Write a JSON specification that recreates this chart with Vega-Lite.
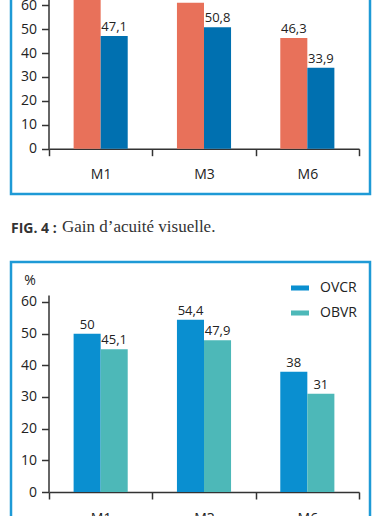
{
  "$schema": "https://vega.github.io/schema/vega-lite/v6.json",
  "padding": {"left": 9, "top": -8, "right": 0, "bottom": -17},
  "background": "white",
  "datasets": {
    "gain": [
      {"month": "M1", "group": "OVCR", "value": 64},
      {"month": "M1", "group": "OBVR", "value": 47.1},
      {"month": "M3", "group": "OVCR", "value": 61},
      {"month": "M3", "group": "OBVR", "value": 50.8},
      {"month": "M6", "group": "OVCR", "value": 46.3},
      {"month": "M6", "group": "OBVR", "value": 33.9}
    ],
    "pct": [
      {"month": "M1", "group": "OVCR", "value": 50},
      {"month": "M1", "group": "OBVR", "value": 45.1},
      {"month": "M3", "group": "OVCR", "value": 54.4},
      {"month": "M3", "group": "OBVR", "value": 47.9},
      {"month": "M6", "group": "OVCR", "value": 38},
      {"month": "M6", "group": "OBVR", "value": 31}
    ]
  },
  "config": {
    "locale": {"number": {"decimal": ",", "thousands": "\u00a0", "grouping": [3], "currency": ["", " €"]}},
    "view": {"stroke": "#1e9ad6", "strokeWidth": 2.5},
    "axis": {"domainColor": "#333333", "domainWidth": 1.5, "tickColor": "#333333", "tickWidth": 1.5, "tickSize": 7, "labelFont": "Open Sans", "labelFontSize": 14, "labelColor": "#222222", "grid": false},
    "text": {"font": "Open Sans"}
  },
  "spacing": 20,
  "resolve": {"scale": {"color": "independent", "x": "independent", "y": "independent", "xOffset": "independent"}},
  "vconcat": [
    {
      "width": 359,
      "height": 200,
      "data": {"name": "gain"},
      "encoding": {
        "x": {"field": "month", "type": "nominal", "sort": null, "scale": {"range": [38, 348], "paddingInner": 0, "paddingOuter": 0}, "axis": {"title": null, "orient": "bottom", "offset": -45.3, "tickBand": "extent", "labelAngle": 0, "labelPadding": 12}},
        "xOffset": {"field": "group", "type": "nominal", "sort": ["OVCR", "OBVR"], "scale": {"paddingInner": 0, "paddingOuter": 0.91}},
        "y": {"field": "value", "type": "quantitative", "scale": {"domain": [0, 64], "range": [154.7, 1.7]}, "axis": {"title": null, "values": [0, 10, 20, 30, 40, 50, 60], "offset": -37.5, "labelPadding": 5}},
        "color": {"field": "group", "type": "nominal", "scale": {"domain": ["OVCR", "OBVR"], "range": ["#e8715a", "#0070b0"]}, "legend": null}
      },
      "layer": [
        {"mark": {"type": "bar", "clip": true}},
        {"mark": {"type": "text", "clip": true, "baseline": "bottom", "dy": -2, "fontSize": 13, "color": "#222222"}, "encoding": {"text": {"field": "value", "type": "quantitative", "format": "~g"}, "color": {"value": "#222222"}}}
      ]
    },
    {
      "width": 359,
      "height": 270,
      "data": {"name": "pct"},
      "title": {"text": "FIG. 4 :", "subtitle": "\u200b\u00a0\u00a0\u00a0\u00a0\u00a0\u00a0\u00a0\u00a0\u00a0\u00a0\u00a0\u00a0Gain d’acuité visuelle.", "anchor": "start", "frame": "group", "font": "Open Sans", "fontSize": 14, "fontWeight": "bold", "color": "#333333", "subtitleFont": "Liberation Serif", "subtitleFontSize": 17, "subtitleColor": "#333333", "subtitlePadding": -17, "offset": 22},
      "encoding": {
        "x": {"field": "month", "type": "nominal", "sort": null, "scale": {"range": [38, 348], "paddingInner": 0, "paddingOuter": 0}, "axis": {"title": null, "orient": "bottom", "offset": -40, "tickBand": "extent", "labelAngle": 0, "labelPadding": 12}},
        "xOffset": {"field": "group", "type": "nominal", "sort": ["OVCR", "OBVR"], "scale": {"paddingInner": 0, "paddingOuter": 0.91}},
        "y": {"field": "value", "type": "quantitative", "scale": {"domain": [0, 62.2], "range": [230, 33]}, "axis": {"title": "%", "titleAngle": 0, "titleX": -19, "titleY": 18, "titleAlign": "center", "titleBaseline": "middle", "titleFont": "Open Sans", "titleFontSize": 14, "titleFontWeight": "normal", "titleColor": "#222222", "values": [0, 10, 20, 30, 40, 50, 60], "offset": -37.5, "labelPadding": 5}},
        "color": {"field": "group", "type": "nominal", "scale": {"domain": ["OVCR", "OBVR"], "range": ["#0a8fd0", "#4db8b8"]}, "legend": {"orient": "none", "legendX": 280, "legendY": 17, "title": null, "symbolType": "M-1,-0.28H1V0.28H-1Z", "symbolSize": 324, "symbolStrokeWidth": 0, "symbolOpacity": 1, "labelFont": "Open Sans", "labelFontSize": 14, "labelColor": "#222222", "labelOffset": 11, "rowPadding": 9, "padding": 0}}
      },
      "layer": [
        {"mark": {"type": "bar"}},
        {"mark": {"type": "text", "baseline": "bottom", "dy": -2, "fontSize": 13, "color": "#222222"}, "encoding": {"text": {"field": "value", "type": "quantitative", "format": "~g"}, "color": {"value": "#222222"}}}
      ]
    }
  ]
}
